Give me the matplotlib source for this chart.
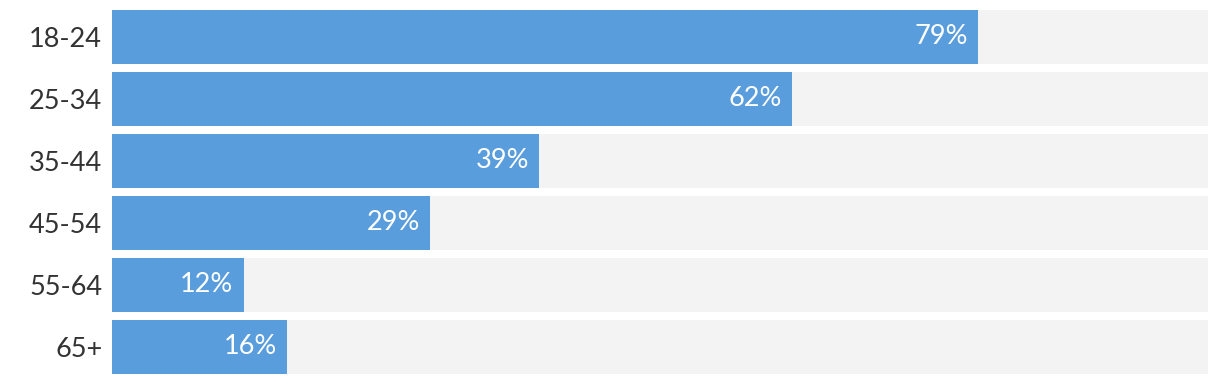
import matplotlib.pyplot as plt

age_groups = ['18-24', '25-34', '35-44', '45-54', '55-64', '65+']
values = [79, 62, 39, 29, 12, 16]

plt.rcParams['font.family'] = ['Lato', 'DejaVu Sans']

fig = plt.figure(figsize=(12.2, 3.84), dpi=100)
# axes spans exactly the bar area (pixels 112..1208 wide, 10..374 tall)
ax = fig.add_axes([112 / 1220, 10 / 384, 1096 / 1220, 364 / 384])

pos = range(len(age_groups))
ax.barh(pos, [100] * len(values), height=54 / 62, color='#f3f3f3')
ax.barh(pos, values, height=54 / 62, color='#5a9ddc')

for i, v in enumerate(values):
    ax.annotate(f'{v}%', (v, i), xytext=(-10, 0), textcoords='offset pixels',
                ha='right', va='center', color='white', fontsize=19.5)

ax.set_xlim(0, 100)
ax.set_ylim(len(values) - 1 + 27 / 62, -27 / 62)
ax.set_yticks(list(pos))
ax.set_yticklabels(age_groups, fontsize=19.5, color='#333333')
ax.tick_params(axis='y', length=0, pad=7)
ax.set_xticks([])
for s in ax.spines.values():
    s.set_visible(False)

fig.savefig('out.png', dpi=100)
